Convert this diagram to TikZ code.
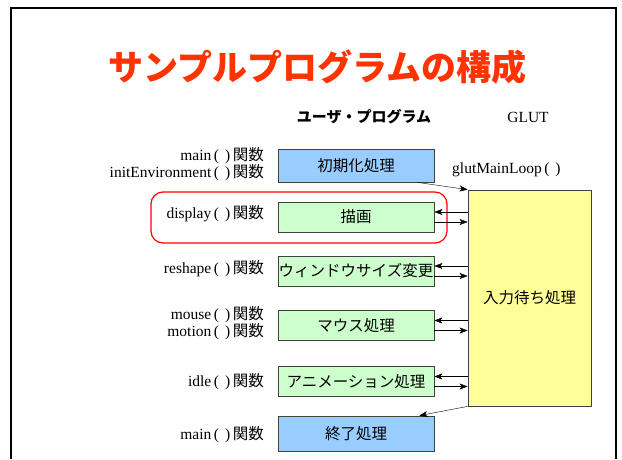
\documentclass[tikz,border=0pt]{standalone}
\usepackage{fontspec}
\setmainfont{Liberation Serif}
\newfontfamily\jp{Noto Sans CJK JP}
\usetikzlibrary{arrows.meta}

\definecolor{initblue}{HTML}{99CCFF}
\definecolor{cbgreen}{HTML}{CCFFCC}
\definecolor{loopyellow}{HTML}{FFFF99}
\definecolor{titlered}{HTML}{FF3300}

\newcommand{\kansu}[1]{#1\,(\hspace{6pt})\,{\jp 関数}}

\begin{document}
\begin{tikzpicture}[x=1pt, y=-1pt, >={Stealth[length=8pt,width=6pt,inset=2pt]},
        every node/.append style={inner sep=0pt},
        proc/.style={draw=black!75, line width=0.8pt, minimum width=156pt,
          font=\jp\fontsize{15.5}{18}\selectfont},
        callback/.style={proc, fill=cbgreen, minimum height=30pt},
        mainproc/.style={proc, fill=initblue, minimum height=33pt},
        fname/.style={anchor=east, align=right, font=\fontsize{15.5}{17}\selectfont}]
      \useasboundingbox (0,0) rectangle (622,459);
      % slide frame
      \draw[line width=2pt] (11,459) -- (11,8) -- (616,8) -- (616,459);
      \node (title) at (317.5,67) {\jp\bfseries\fontsize{35}{40}\selectfont\color{titlered}サンプルプログラムの構成};
      \node (user) at (364,117) {\jp\bfseries\fontsize{15}{17}\selectfont ユーザ・プログラム};
      \node (glut) at (528,117) {\fontsize{15.5}{17}\selectfont GLUT};

      % user program side
      \node (init) [mainproc, minimum height=33pt] at (356,165.5) {初期化処理};
      \node (disp) [callback] at (356,217) {描画};
      \node (reshape) [callback] at (356,271) {ウィンドウサイズ変更};
      \node (mouse) [callback] at (356,325.5) {マウス処理};
      \node (anim) [callback] at (356,381.5) {アニメーション処理};
      \node (fin) [mainproc, minimum height=35pt] at (356,433.5) {終了処理};

      % callback names
      \node (initname) [fname] at (264,164) {\kansu{main}\\\kansu{initEnvironment}};
      \node (dispname) [fname] at (264,214) {\kansu{display}};
      \node (reshapename) [fname] at (264,269) {\kansu{reshape}};
      \node (mousename) [fname] at (264,323) {\kansu{mouse}\\\kansu{motion}};
      \node (animname) [fname] at (264,382) {\kansu{idle}};
      \node (finname) [fname] at (264,435) {\kansu{main}};

      % GLUT side
      \node (loop) [proc, fill=loopyellow, minimum width=123pt, minimum height=216pt] at (529.5,298) {入力待ち処理};
      \node (loopname) [anchor=west] at (452,170) {\fontsize{15.5}{17}\selectfont glutMainLoop\,(\hspace{6pt})};

      \draw[red, line width=1.2pt, rounded corners=12pt] (151,192) rectangle (447,243);

      \draw[->] ([xshift=-17pt]init.south east) -- (loop.north west);
      \foreach \cb in {disp, reshape, mouse, anim} {
        \draw[<-] ([yshift=5pt]\cb.east) -- ([yshift=5pt]\cb.east -| loop.west);
        \draw[->] ([yshift=-5pt]\cb.east) -- ([yshift=-5pt]\cb.east -| loop.west);
      }
      \draw[->] (loop.south west) -- ([xshift=-15pt]fin.north east);
    \end{tikzpicture}
\end{document}
